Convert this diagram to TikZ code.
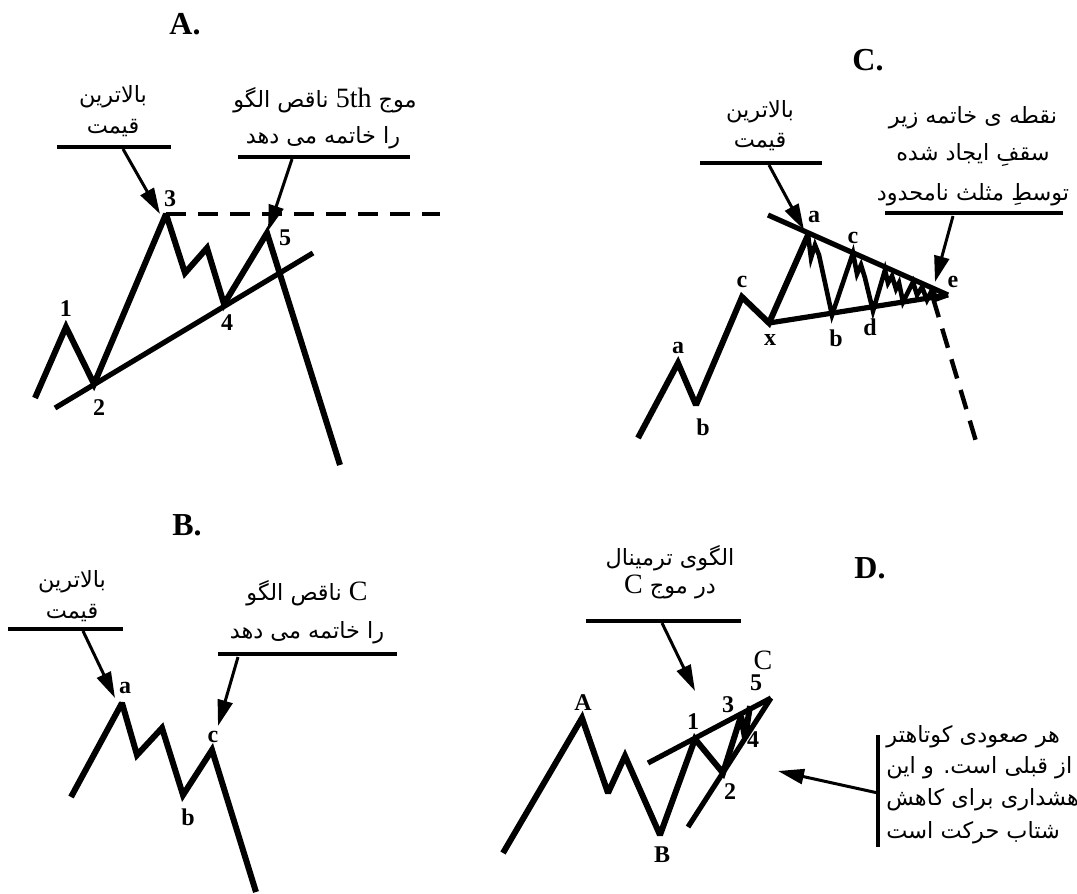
\documentclass[tikz,border=0pt]{standalone}
\usepackage{fontspec}
\setmainfont{Liberation Serif}
\newfontfamily\persan[Script=Arabic]{DejaVu Sans}
\TeXXeTstate=1
\usetikzlibrary{arrows.meta}
% Texte persan (de droite a gauche) et mot latin inclus
\newcommand{\fa}[1]{{\persan\beginR #1\endR}}
\newcommand{\lat}[1]{\beginL{\rmfamily\fontsize{14}{14}\selectfont #1}\endL{}}
\begin{document}
\begin{tikzpicture}[x=0.5pt,y=-0.5pt]
	% Styles (MODIFIABLES)
	\tikzstyle{vague}=[line width=3pt,line join=miter,miter limit=2.5]
	\tikzstyle{petitevague}=[line width=2.3pt,line join=miter,miter limit=6]
	\tikzstyle{tendance}=[line width=2.6pt]
	\tikzstyle{pointille}=[line width=2.2pt,dash pattern=on 10pt off 6pt]
	\tikzstyle{fleche}=[-{Triangle[length=13pt,width=7.5pt]},line width=1.5pt]
	\tikzstyle{trait}=[line width=2pt]
	\tikzstyle{etiquette}=[font=\bfseries\fontsize{12}{12}\selectfont,inner sep=0pt]
	\tikzstyle{titre}=[font=\bfseries\fontsize{16}{16}\selectfont,inner sep=0pt]
	\tikzstyle{commentaire}=[font=\persan\fontsize{11.2}{11.2}\selectfont,inner sep=0pt]
	% Cadre
	\useasboundingbox (0,0) rectangle (1077,894);
	%
	% ===== Figure A =====
	\node[titre] (titreA) at (185,24) {A.};
	\coordinate (A0) at (35,398);
	\coordinate (A1) at (66,327);
	\coordinate (A2) at (94,384);
	\coordinate (A3) at (166,214);
	\coordinate (A3a) at (185,273);
	\coordinate (A3b) at (207,248);
	\coordinate (A4) at (224,304);
	\coordinate (A5) at (267,233);
	\coordinate (A6) at (340,465);
	\coordinate (TA1) at (55,408);
	\coordinate (TA2) at (313,253);
	\coordinate (DA) at (440,214);
	\node[etiquette] (eA1) at (66,309) {1};
	\node[etiquette] (eA2) at (99,408) {2};
	\node[etiquette] (eA3) at (170,199) {3};
	\node[etiquette] (eA4) at (227,323) {4};
	\node[etiquette] (eA5) at (285,238) {5};
	\node[commentaire] (cA1) at (113,97) {\fa{بالاترین}};
	\node[commentaire] (cA2) at (113,128) {\fa{قیمت}};
	\coordinate (sA1) at (57,147); \coordinate (sA2) at (171,147);
	\coordinate (fA1) at (123,149); \coordinate (fA2) at (160,214);
	\node[commentaire] (cA3) at (325,100) {\fa{موج \lat{5th} ناقص الگو}};
	\node[commentaire] (cA4) at (323,138) {\fa{را خاتمه می دهد}};
	\coordinate (sA3) at (238,157); \coordinate (sA4) at (410,157);
	\coordinate (fA3) at (292,159); \coordinate (fA4) at (268,231);
	% Arcs A
	\draw[vague] (A0)--(A1)--(A2)--(A3)--(A3a)--(A3b)--(A4)--(A5)--(A6);
	\draw[tendance] (TA1)--(TA2);
	\draw[pointille] (A3)--(DA);
	\draw[trait] (sA1)--(sA2);
	\draw[trait] (sA3)--(sA4);
	\draw[fleche] (fA1)--(fA2);
	\draw[fleche] (fA3)--(fA4);
	%
	% ===== Figure B =====
	\node[titre] (titreB) at (187,525) {B.};
	\coordinate (B0) at (71,797);
	\coordinate (Ba) at (122,703);
	\coordinate (B1) at (137,755);
	\coordinate (B2) at (162,728);
	\coordinate (Bb) at (183,795);
	\coordinate (Bc) at (212,750);
	\coordinate (B3) at (256,892);
	\node[etiquette] (eBa) at (125,688) {a};
	\node[etiquette] (eBb) at (188,817) {b};
	\node[etiquette] (eBc) at (213,737) {c};
	\node[commentaire] (cB1) at (72,582) {\fa{بالاترین}};
	\node[commentaire] (cB2) at (72,613) {\fa{قیمت}};
	\coordinate (sB1) at (8,629); \coordinate (sB2) at (123,629);
	\coordinate (fB1) at (83,631); \coordinate (fB2) at (115,698);
	\node[commentaire] (cB3) at (307,593) {\fa{\lat{C} ناقص الگو}};
	\node[commentaire] (cB4) at (307,633) {\fa{را خاتمه می دهد}};
	\coordinate (sB3) at (218,654); \coordinate (sB4) at (397,654);
	\coordinate (fB3) at (238,657); \coordinate (fB4) at (218,726);
	% Arcs B
	\draw[vague] (B0)--(Ba)--(B1)--(B2)--(Bb)--(Bc)--(B3);
	\draw[trait] (sB1)--(sB2);
	\draw[trait] (sB3)--(sB4);
	\draw[fleche] (fB1)--(fB2);
	\draw[fleche] (fB3)--(fB4);
	%
	% ===== Figure C =====
	\node[titre] (titreC) at (868,60) {C.};
	\coordinate (C0) at (638,438);
	\coordinate (Ca1) at (678,363);
	\coordinate (Cb1) at (696,405);
	\coordinate (Cc1) at (742,297);
	\coordinate (Cx) at (769,323);
	\coordinate (Ca) at (808,235);
	\coordinate (Cb) at (832,315);
	\coordinate (Cc) at (853,253);
	\coordinate (Cd) at (873,311);
	\coordinate (Ce) at (948,295);
	\coordinate (TC1) at (768,215);
	\coordinate (DC1) at (933,298);
	\coordinate (DC2) at (978,448);
	\node[etiquette] (eCa1) at (678,348) {a};
	\node[etiquette] (eCb1) at (703,427) {b};
	\node[etiquette] (eCc1) at (742,282) {c};
	\node[etiquette] (eCx) at (770,340) {x};
	\node[etiquette] (eCa) at (814,217) {a};
	\node[etiquette] (eCb) at (836,338) {b};
	\node[etiquette] (eCc) at (853,238) {c};
	\node[etiquette] (eCd) at (870,327) {d};
	\node[etiquette] (eCe) at (953,282) {e};
	\node[commentaire] (cC1) at (760,112) {\fa{بالاترین}};
	\node[commentaire] (cC2) at (760,142) {\fa{قیمت}};
	\coordinate (sC1) at (700,163); \coordinate (sC2) at (822,163);
	\coordinate (fC1) at (769,165); \coordinate (fC2) at (804,230);
	\node[commentaire] (cC3) at (973,118) {\fa{نقطه ی خاتمه زیر}};
	\node[commentaire] (cC4) at (973,155) {\fa{سقفِ ایجاد شده}};
	\node[commentaire] (cC5) at (973,195) {\fa{توسطِ مثلث نامحدود}};
	\coordinate (sC3) at (885,213); \coordinate (sC4) at (1063,213);
	\coordinate (fC3) at (953,216); \coordinate (fC4) at (935,282);
	% Arcs C
	\draw[vague] (C0)--(Ca1)--(Cb1)--(Cc1)--(Cx)--(Ca);
	\draw[petitevague] (Ca)--(811,258)--(815,245)--(819,255)
		--(Cb)--(Cc)--(857,274)--(861,265)--(865,278)--(Cd)--(885,270)--(888,283)--(892,276)
		--(896,289)--(899,283)--(903,302)--(913,282)--(917,295)--(922,287)--(927,300)
		--(932,290)--(937,299)--(Ce);
	\draw[tendance] (TC1)--(Ce);
	\draw[tendance] (Cx)--(Ce);
	\draw[pointille] (DC1)--(DC2);
	\draw[trait] (sC1)--(sC2);
	\draw[trait] (sC3)--(sC4);
	\draw[fleche] (fC1)--(fC2);
	\draw[fleche] (fC3)--(fC4);
	%
	% ===== Figure D =====
	\node[titre] (titreD) at (870,568) {D.};
	\coordinate (D0) at (503,853);
	\coordinate (DA) at (582,718);
	\coordinate (Da) at (608,793);
	\coordinate (Db) at (625,756);
	\coordinate (DB) at (660,835);
	\coordinate (D1) at (695,739);
	\coordinate (D2) at (723,773);
	\coordinate (D3) at (741,716);
	\coordinate (D4) at (745,738);
	\coordinate (D5) at (750,706);
	\coordinate (TD1) at (648,763);
	\coordinate (TD2) at (688,827);
	\coordinate (TD3) at (771,698);
	\node[etiquette] (eDA) at (583,703) {A};
	\node[etiquette] (eDB) at (662,855) {B};
	\node[etiquette] (eD1) at (693,722) {1};
	\node[etiquette] (eD2) at (730,792) {2};
	\node[etiquette] (eD3) at (728,705) {3};
	\node[etiquette] (eD4) at (753,740) {4};
	\node[etiquette] (eD5) at (756,683) {5};
	\node[font=\fontsize{14}{14}\selectfont,inner sep=0pt] (eDC) at (763,660) {C};
	\node[commentaire] (cD1) at (670,558) {\fa{الگوی ترمینال}};
	\node[commentaire] (cD2) at (670,587) {\fa{در موج \lat{C}}};
	\coordinate (sD1) at (586,621); \coordinate (sD2) at (741,621);
	\coordinate (fD1) at (662,623); \coordinate (fD2) at (695,691);
	\node[commentaire,anchor=west] (cD3) at (886,737) {\fa{هر صعودی کوتاهتر}};
	\node[commentaire,anchor=west] (cD4) at (886,768) {\fa{از قبلی است. و این}};
	\node[commentaire,anchor=west] (cD5) at (886,800) {\fa{هشداری برای کاهش}};
	\node[commentaire,anchor=west] (cD6) at (886,833) {\fa{شتاب حرکت است}};
	\coordinate (bD1) at (878,735); \coordinate (bD2) at (878,847);
	\coordinate (fD3) at (878,793); \coordinate (fD4) at (778,771);
	% Arcs D
	\draw[vague] (D0)--(DA)--(Da)--(Db)--(DB)--(D1)--(D2)--(D3)--(D4)--(D5);
	\draw[tendance] (TD1)--(TD3);
	\draw[tendance] (TD2)--(TD3);
	\draw[trait] (sD1)--(sD2);
	\draw[trait] (bD1)--(bD2);
	\draw[fleche] (fD1)--(fD2);
	\draw[fleche] (fD3)--(fD4);
\end{tikzpicture}
\end{document}
